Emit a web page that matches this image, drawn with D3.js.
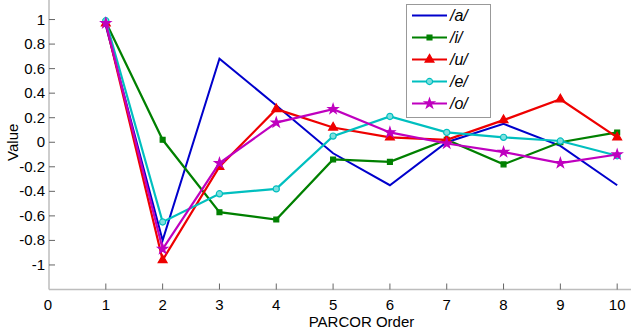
<!DOCTYPE html>
<html>
<head>
<meta charset="utf-8">
<script src="https://cdn.jsdelivr.net/npm/d3@7"></script>
<style>
    body { margin: 0; background: #fff; }
    text { font-family: "Liberation Sans", Arial, sans-serif; }
</style>
</head>
<body>
<svg id="chart" width="631" height="333"></svg>
<script>
// PARCOR orders on the x axis
const orders = [1, 2, 3, 4, 5, 6, 7, 8, 9, 10];
const xTicks = [0, 1, 2, 3, 4, 5, 6, 7, 8, 9, 10];
const yTicks = [1, 0.8, 0.6, 0.4, 0.2, 0, -0.2, -0.4, -0.6, -0.8, -1];

// values per vowel
const vowelA = [0.95, -0.80, 0.68, 0.30, -0.09, -0.35, 0.00, 0.15, -0.03, -0.35];
const vowelI = [0.98, 0.02, -0.57, -0.63, -0.14, -0.16, 0.02, -0.18, 0.00, 0.08];
const vowelU = [0.97, -0.96, -0.20, 0.27, 0.12, 0.04, 0.02, 0.18, 0.35, 0.04];
const vowelE = [0.99, -0.65, -0.42, -0.38, 0.05, 0.21, 0.08, 0.04, 0.01, -0.11];
const vowelO = [0.97, -0.87, -0.17, 0.16, 0.27, 0.08, -0.01, -0.08, -0.17, -0.10];

const seriesNames = ['/a/', '/i/', '/u/', '/e/', '/o/'];
const seriesColors = ['#0000cc', '#008000', '#ee0000', '#00bfbf', '#bf00bf'];
const seriesMarkers = [null, 'square', 'triangle', 'circle', 'star'];

const series = [vowelA, vowelI, vowelU, vowelE, vowelO].map((vals, i) => ({
    name: seriesNames[i],
    color: seriesColors[i],
    marker: seriesMarkers[i],
    values: vals.map((v, j) => ({x: orders[j], y: v}))
}));

const svg = d3.select('#chart');

const scaleX = d3.scaleLinear().domain([0, 11]).range([49, 674]);
const scaleY = d3.scaleLinear().domain([-1.2, 1.2]).range([289.5, -5]);

const axisColor = '#bdbdbd';

// axes lines
svg.append('line')
    .attr('x1', scaleX(0)).attr('x2', 631)
    .attr('y1', scaleY(-1.2)).attr('y2', scaleY(-1.2))
    .attr('stroke', axisColor).attr('stroke-width', 1.5);
svg.append('line')
    .attr('x1', scaleX(0)).attr('x2', scaleX(0))
    .attr('y1', 0).attr('y2', scaleY(-1.2))
    .attr('stroke', axisColor).attr('stroke-width', 1.5);

// x ticks (inside)
let xg = svg.append('g');
xg.selectAll('line')
    .data(xTicks.filter(d => d > 0))
    .join('line')
    .attr('x1', d => scaleX(d)).attr('x2', d => scaleX(d))
    .attr('y1', scaleY(-1.2)).attr('y2', scaleY(-1.2) - 6)
    .attr('stroke', '#666').attr('stroke-width', 1);
xg.selectAll('text')
    .data(xTicks)
    .join('text')
    .attr('x', d => scaleX(d) - (d === 0 ? 1 : 0))
    .attr('y', 310)
    .attr('text-anchor', 'middle')
    .attr('font-size', 15)
    .text(d => d);

// y ticks (inside)
let yg = svg.append('g');
yg.selectAll('line')
    .data(yTicks)
    .join('line')
    .attr('x1', scaleX(0)).attr('x2', scaleX(0) + 6)
    .attr('y1', d => scaleY(d)).attr('y2', d => scaleY(d))
    .attr('stroke', '#666').attr('stroke-width', 1);
yg.selectAll('text')
    .data(yTicks)
    .join('text')
    .attr('x', 45)
    .attr('y', d => scaleY(d) + 5)
    .attr('text-anchor', 'end')
    .attr('font-size', 15)
    .text(d => d);

// axis labels
svg.append('text')
    .attr('x', scaleX(5.5)).attr('y', 327)
    .attr('text-anchor', 'middle')
    .attr('font-size', 15)
    .text('PARCOR Order');
svg.append('text')
    .attr('transform', `translate(18, ${scaleY(0)}) rotate(-90)`)
    .attr('text-anchor', 'middle')
    .attr('font-size', 15)
    .text('Value');

const symbolFor = {
    square: d3.symbol().type(d3.symbolSquare).size(24),
    triangle: d3.symbol().type(d3.symbolTriangle).size(34),
    circle: d3.symbol().type(d3.symbolCircle).size(30),
    star: d3.symbol().type(d3.symbolStar).size(30)
};

const line = d3.line().x(d => scaleX(d.x)).y(d => scaleY(d.y));

let plot = svg.append('g');
for (let s of series) {
    let g = plot.append('g');
    g.append('path')
        .datum(s.values)
        .attr('d', line)
        .attr('fill', 'none')
        .attr('stroke', s.color)
        .attr('stroke-width', s.marker ? 2.2 : 2)
        .attr('stroke-linejoin', 'miter');
    if (s.marker) {
        g.selectAll('path.mk')
            .data(s.values)
            .join('path')
            .attr('class', 'mk')
            .attr('transform', d => `translate(${scaleX(d.x)},${scaleY(d.y)})`)
            .attr('d', symbolFor[s.marker])
            .attr('fill', s.marker === 'circle' ? '#7fdfdf' : s.color)
            .attr('stroke', s.color)
            .attr('stroke-width', 1.2);
    }
}

// legend
let legend = svg.append('g');
legend.append('rect')
    .attr('x', 406.5).attr('y', 4.5)
    .attr('width', 84).attr('height', 113)
    .attr('fill', '#fff')
    .attr('stroke', '#999').attr('stroke-width', 1);

let items = legend.selectAll('g.item')
    .data(series)
    .join('g')
    .attr('class', 'item')
    .attr('transform', (d, i) => `translate(0, ${15.5 + i * 22})`);
items.append('line')
    .attr('x1', 412).attr('x2', 447)
    .attr('y1', 0).attr('y2', 0)
    .attr('stroke', d => d.color)
    .attr('stroke-width', 2.2);
items.filter(d => d.marker)
    .append('path')
    .attr('transform', 'translate(429.5, 0)')
    .attr('d', d => symbolFor[d.marker]())
    .attr('fill', d => d.marker === 'circle' ? '#7fdfdf' : d.color)
    .attr('stroke', d => d.color)
    .attr('stroke-width', 1.2);
items.append('text')
    .attr('x', 450).attr('y', 5.5)
    .attr('font-size', 16)
    .attr('font-style', 'italic')
    .text(d => d.name);
</script>
</body>
</html>
